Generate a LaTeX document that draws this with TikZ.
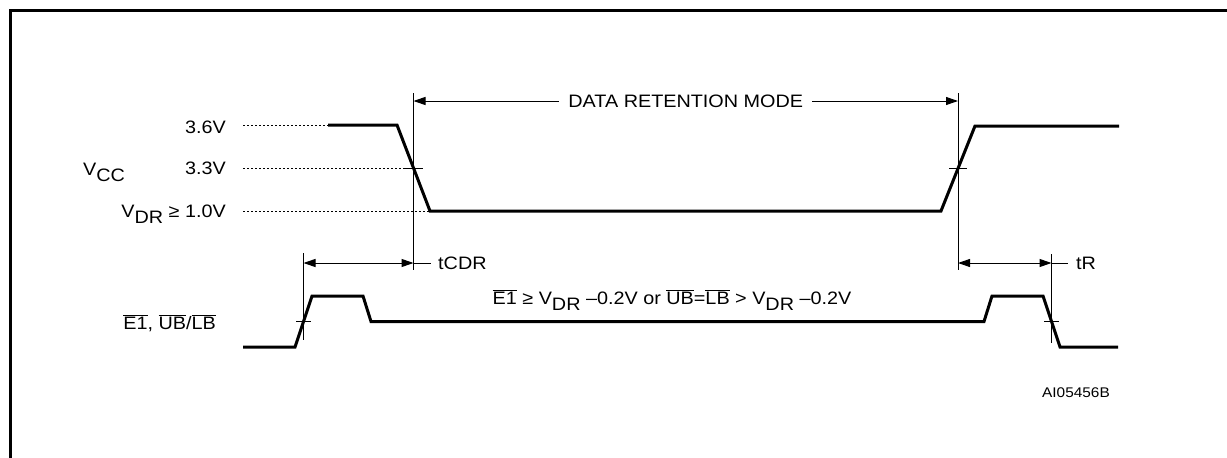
\documentclass[tikz,border=0pt]{standalone}
\usepackage{fontspec}
\setmainfont{Liberation Sans}[FakeStretch=1.1]
\usetikzlibrary{arrows.meta}
\newcommand\ovl[1]{$\overline{\mbox{#1}}$}
\newcommand\lo[1]{\lower6pt\hbox{#1}}
\begin{document}
\begin{tikzpicture}[x=1pt, y=-1pt, font=\fontsize{18}{22}\selectfont,
  wave/.style={line width=3pt},
  guide/.style={line width=1pt},
  dots/.style={line width=1pt, dash pattern=on 1.5pt off 2.5pt},
  dim/.style={line width=1pt, {Triangle[length=12pt,width=8pt]}-{Triangle[length=12pt,width=8pt]}},
  txt/.style={inner sep=0pt}]
  \useasboundingbox (0,0) rectangle (1227,458);
  \draw [line width=2.5pt] (1240,10.5) -- (10.5,10.5) -- (10.5,470);
  % crossing points
  \coordinate (fallV) at (413.5,168);
  \coordinate (riseV) at (958,168);
  \coordinate (riseE) at (303.5,321.5);
  \coordinate (fallE) at (1051.5,321.5);
  % VCC levels
  \node[txt, anchor=base east] (l36) at (226,133) {3.6V};
  \node[txt, anchor=base east] (l33) at (226,174) {3.3V};
  \node[txt, anchor=base east] (ldr) at (226,217) {V\lo{DR} ≥ 1.0V};
  \node[txt, anchor=base west] (vcc) at (83,175) {V\lo{CC}};
  \draw [dots] (243,125) -- (328,125);
  \draw [dots] (243,168) -- (403,168);
  \draw [dots] (243,211) -- (430,211);
  \draw [wave] (328,125) -- (397,125) -- (430,211) -- (941,211) -- (975,126) -- (1119,126);
  \draw [guide] (403,168) -- (423,168);
  \draw [guide] (949,168) -- (967,168);
  % E1, UB/LB
  \node[txt, anchor=base east] (le) at (216,329) {\ovl{E1}, \ovl{UB}/\ovl{LB}};
  \draw [wave] (243,347) -- (295,347) -- (312,296) -- (363,296) -- (371,321.5)
    -- (984,321.5) -- (992,296) -- (1043,296) -- (1060,347) -- (1118,347);
  \draw [guide] (296,321.5) -- (311,321.5);
  \draw [guide] (1044,321.5) -- (1059,321.5);
  \node[txt, anchor=base] (cond) at (672,304)
    {\ovl{E1} ≥ V\lo{DR} –0.2V or \ovl{UB}=\ovl{LB} > V\lo{DR} –0.2V};
  % timing lines
  \draw [guide] (fallV |- 0,93) -- (fallV |- 0,270);
  \draw [guide] (riseV |- 0,93) -- (riseV |- 0,270);
  \draw [guide] (riseE |- 0,253) -- (riseE |- 0,340);
  \draw [guide] (fallE |- 0,254) -- (fallE |- 0,343);
  \draw [dim] (fallV |- 0,101) -- node[fill=white, inner xsep=9pt, inner ysep=2pt] (drm) {DATA RETENTION MODE} (riseV |- 0,101);
  \draw [dim] (riseE |- 0,263) -- (fallV |- 0,263);
  \draw [guide] (fallV |- 0,263) -- ++(17,0);
  \node[txt, anchor=west] (tcdr) at (438,263) {tCDR};
  \draw [dim] (riseV |- 0,263) -- (fallE |- 0,263);
  \draw [guide] (fallE |- 0,263) -- ++(16,0);
  \node[txt, anchor=west] (tr) at (1076,263) {tR};
  \node[txt, anchor=east, font=\fontsize{14}{16}\selectfont] (fig) at (1110,393) {AI05456B};
\end{tikzpicture}
\end{document}
